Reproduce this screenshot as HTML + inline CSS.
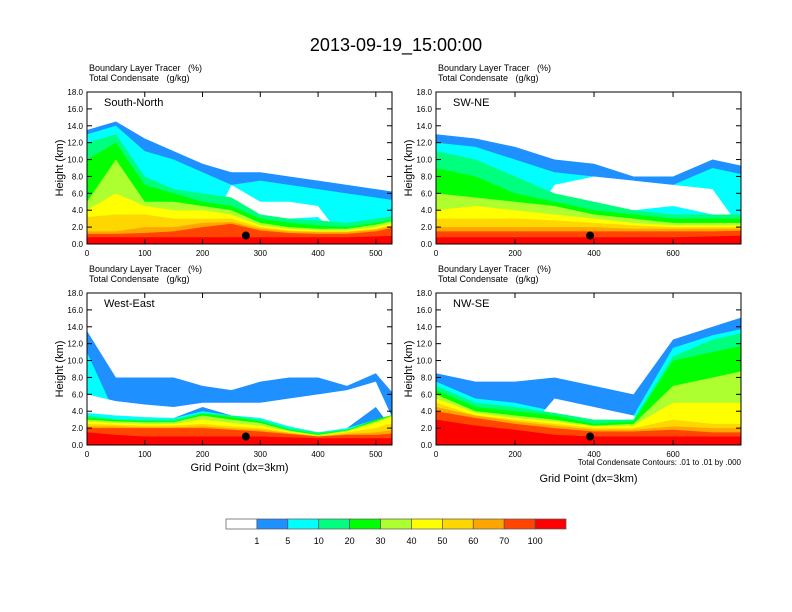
<!DOCTYPE html>
<html><head><meta charset="utf-8">
<style>
body{margin:0;background:#fff;}
svg{display:block;font-family:"Liberation Sans",sans-serif;}
text{white-space:pre;}
</style></head>
<body>
<svg id="chart" width="792" height="612" viewBox="0 0 792 612" xmlns="http://www.w3.org/2000/svg">
<text x="396" y="51" font-size="18" text-anchor="middle">2013-09-19_15:00:00</text>
<g id="panels"></g>
<g id="colorbar"></g>
</svg>
<script>
// ---- data (heights in km of each shaded level top) ----
const levelColors = ["#1e90ff","#00ffff","#00ff7f","#00ff00","#adff2f","#ffff00","#ffd700","#ffa500","#ff4500","#ff0000"];
const cbLabels = ["1","5","10","20","30","40","50","60","70","100"];
const cbColors = ["#ffffff","#1e90ff","#00ffff","#00ff7f","#00ff00","#adff2f","#ffff00","#ffd700","#ffa500","#ff4500","#ff0000"];
const yTicks = [0,2,4,6,8,10,12,14,16,18];

const snX = [0,50,100,150,200,250,300,350,400,450,500,550];
const snBlue = [13.5,14.5,12.5,11,9.5,8.5,8.5,8,7.5,7,6.5,6];
const snCyan = [13,14,11,10,8.5,7,7.5,7,6.5,6,5.5,5];
const snHoleB = [0,0,0,0,0,5.5,3,3,3.2,0,0,0];
const snHoleT = [0,0,0,0,0,7,5,5,4.5,0,0,0];
const snTeal = [12,13,8,6.5,6,5.5,3.5,3,2.8,2.5,3,3.5];
const snGreen = [10,12,7,6,5,4.5,3,2.5,2.2,2,2.5,3];
const snLime = [5,10,5,5,4.5,4,2.5,2,1.8,1.8,2.3,3];
const snYellow = [4,6,4.5,4,4,3.5,2.2,1.8,1.6,1.6,2,2.8];
const snGold = [3.2,3.5,3.5,3,3,3,2,1.6,1.5,1.5,1.8,2.6];
const snOrange = [1.5,1.5,2,2,2.5,2.6,1.8,1.5,1.4,1.4,1.7,2.4];
const snRedOr = [1.2,1.2,1.3,1.5,2,2.4,1.6,1.3,1.2,1.2,1.5,2.2];
const snRed = [0.8,0.8,0.8,0.8,0.8,0.8,0.8,0.8,0.8,0.8,0.9,1];

const swX = [0,100,200,300,400,500,600,700,800];
const swBlue = [13,12.5,11.5,10,9.5,8,8,10,9];
const swCyan = [12,11.5,10,8.5,8,7,7,9,8];
const swHoleB = [0,0,0,5,4.5,4,4.5,3.5,0];
const swHoleT = [0,0,0,7,8,7.5,7,6.5,0];
const swTeal = [11,10,8,6,5,4,3.5,3.5,3.5];
const swGreen = [9,8,6,5,4,3.5,3,3,3];
const swLime = [6,5.5,5,4.5,3.5,3,2.5,2.5,2.5];
const swYellow = [4,4.5,4,3.5,3,2.5,2.2,2.2,2.2];
const swGold = [3,3,3,2.8,2.5,2.2,2,2,2];
const swOrange = [2,2,2,2,2,1.8,1.8,1.8,1.8];
const swRedOr = [1.5,1.5,1.5,1.5,1.5,1.5,1.5,1.5,1.6];
const swRed = [0.8,0.8,0.8,0.8,0.8,0.8,0.8,0.9,1];

const weX = [0,50,100,150,200,250,300,350,400,450,500,550];
const weBlue = [13.5,8,8,8,7,6.5,7.5,8,8,7,8.5,4.5];
const weCyan = [11,3.5,3.3,3.2,4,3.5,3.2,2.2,1.5,2,3,4];
const weHoleB = [3.8,3.5,3.3,3.2,4.5,3.5,3.2,2.2,1.5,2,4.5,0];
const weHoleT = [6,5.2,4.8,4.5,5,5,5,5.5,6,6.5,7.5,0];
const weTeal = [3.5,3,3,3,3.8,3.5,3,2,1.5,1.8,3,4];
const weGreen = [3.2,3,2.8,2.8,3.7,3.3,2.8,1.8,1.3,1.8,3,4];
const weLime = [3,2.8,2.7,2.7,3.5,3,2.6,1.7,1.2,1.7,2.8,4];
const weYellow = [2.8,2.6,2.5,2.5,3,2.6,2.3,1.6,1.1,1.6,2.6,4];
const weGold = [2.5,2.4,2.3,2.3,2.5,2.2,2,1.5,1.1,1.5,2,3];
const weOrange = [2.2,2.2,2.1,2.1,2.2,2,1.8,1.4,1,1.3,1.5,2];
const weRedOr = [2,2,2,2,2,1.8,1.6,1.3,1,1.2,1.2,1.5];
const weRed = [1.5,1.2,1,1,1,1,1,0.9,0.8,0.8,0.8,0.8];

const nwX = [0,100,200,300,400,500,600,700,800];
const nwBlue = [8.5,7.5,7.5,8,7,6,12.5,14,15.5];
const nwCyan = [7.5,5.5,5,4,3.5,3.5,11.5,13,14];
const nwHoleB = [0,0,0,3.2,2.5,3,0,0,0];
const nwHoleT = [0,0,0,5.5,4.5,3.5,0,0,0];
const nwTeal = [7,5,4.5,3.8,3,3,10.5,12.5,13.5];
const nwGreen = [6.5,4.5,4,3.5,2.5,2.8,10,11,12];
const nwLime = [6,4,3.5,3,2.3,2.5,7,8,9];
const nwYellow = [5.5,3.8,3.2,2.8,2.2,2.3,5,5,5];
const nwGold = [5,3.5,3,2.5,2,2,3,2.5,2.5];
const nwOrange = [4.5,3.5,2.8,2.3,1.8,1.8,2.2,2,2];
const nwRedOr = [4,3.2,2.5,2,1.6,1.6,1.8,1.5,1.5];
const nwRed = [3,2.3,1.8,1.2,1,1,1,1,1];

const panels = [
 {id:"south-north",name:"South-North",x0:87,y0:92,xmax:528,xt:[0,100,200,300,400,500],x:snX,blue:snBlue,cyan:snCyan,hb:snHoleB,ht:snHoleT,rest:[snTeal,snGreen,snLime,snYellow,snGold,snOrange,snRedOr,snRed],dot:275,xtitle:false,note:false},
 {id:"sw-ne",name:"SW-NE",x0:436,y0:92,xmax:772,xt:[0,200,400,600],x:swX,blue:swBlue,cyan:swCyan,hb:swHoleB,ht:swHoleT,rest:[swTeal,swGreen,swLime,swYellow,swGold,swOrange,swRedOr,swRed],dot:390,xtitle:false,note:false},
 {id:"west-east",name:"West-East",x0:87,y0:293,xmax:528,xt:[0,100,200,300,400,500],x:weX,blue:weBlue,cyan:weCyan,hb:weHoleB,ht:weHoleT,rest:[weTeal,weGreen,weLime,weYellow,weGold,weOrange,weRedOr,weRed],dot:275,xtitle:true,note:false},
 {id:"nw-se",name:"NW-SE",x0:436,y0:293,xmax:772,xt:[0,200,400,600],x:nwX,blue:nwBlue,cyan:nwCyan,hb:nwHoleB,ht:nwHoleT,rest:[nwTeal,nwGreen,nwLime,nwYellow,nwGold,nwOrange,nwRedOr,nwRed],dot:390,xtitle:true,note:true}
];
const W=305,H=152;
const NS="http://www.w3.org/2000/svg";
function mk(tag,attrs,parent,txt){const e=document.createElementNS(NS,tag);for(const k in attrs)e.setAttribute(k,attrs[k]);if(txt!==undefined)e.textContent=txt;parent.appendChild(e);return e;}
const root=document.getElementById("panels");
panels.forEach((p,pi)=>{
  const g=mk("g",{},root);
  
  
  const sx=v=>p.x0+v/p.xmax*W, sy=v=>p.y0+H-v/18*H;
  const cp=mk("clipPath",{id:"clip"+pi},g); mk("rect",{x:p.x0,y:p.y0,width:W,height:H},cp);
  const fg=mk("g",{"clip-path":"url(#clip"+pi+")"},g);
  const area=(arr,color,name)=>{let d="M"+sx(p.x[0])+","+sy(0);p.x.forEach((xv,i)=>{d+="L"+sx(xv)+","+sy(arr[i]);});d+="L"+sx(p.x[p.x.length-1])+","+sy(0)+"Z";
    const e=mk("path",{d:d,fill:color},fg);
    
    };
  area(p.blue,levelColors[0],"tracer-level-1");
  area(p.cyan,levelColors[1],"tracer-level-5");
  let d="M"+sx(p.x[0])+","+sy(p.hb[0]);p.x.forEach((xv,i)=>{d+="L"+sx(xv)+","+sy(p.hb[i]);});
  for(let i=p.x.length-1;i>=0;i--)d+="L"+sx(p.x[i])+","+sy(p.ht[i]);d+="Z";
  const hole=mk("path",{d:d,fill:"#fff"},fg);
  
  
  const lvNames=["10","20","30","40","50","60","70","100"];
  p.rest.forEach((arr,k)=>area(arr,levelColors[k+2],"tracer-level-"+lvNames[k]));
  const dot=mk("circle",{cx:sx(p.dot),cy:sy(1),r:4,fill:"#000"},g);
  
  
  const fr=mk("rect",{x:p.x0,y:p.y0,width:W,height:H,fill:"none",stroke:"#000","stroke-width":1},g);
  
  
  yTicks.forEach(t=>{
    mk("line",{x1:p.x0,x2:p.x0+5,y1:sy(t),y2:sy(t),stroke:"#000"},g);
    mk("line",{x1:p.x0+W,x2:p.x0+W-5,y1:sy(t),y2:sy(t),stroke:"#000"},g);
    const tl=mk("text",{x:p.x0-4,y:sy(t)+3,"font-size":"8","text-anchor":"end"},g,t.toFixed(1));
    
    
  });
  p.xt.forEach(t=>{
    mk("line",{x1:sx(t),x2:sx(t),y1:p.y0+H,y2:p.y0+H-5,stroke:"#000"},g);
    mk("line",{x1:sx(t),x2:sx(t),y1:p.y0,y2:p.y0+5,stroke:"#000"},g);
    const tl=mk("text",{x:sx(t),y:p.y0+H+12,"font-size":"8","text-anchor":"middle"},g,String(t));
    
    
  });
  const yt=mk("text",{x:p.x0-24,y:p.y0+H/2,"font-size":"11","text-anchor":"middle",transform:"rotate(-90 "+(p.x0-24)+" "+(p.y0+H/2)+")"},g,"Height (km)");
  
  
  const t1=mk("text",{x:p.x0+2,y:p.y0-21,"font-size":"9"},g,"Boundary Layer Tracer   (%)");
  
  
  const t2=mk("text",{x:p.x0+2,y:p.y0-11,"font-size":"9"},g,"Total Condensate   (g/kg)");
  
  
  const pn=mk("text",{x:p.x0+17,y:p.y0+14,"font-size":"11"},g,p.name);
  
  
  if(p.xtitle){
    const xt=mk("text",{x:p.x0+W/2,y:p.note?482:471,"font-size":"11","text-anchor":"middle"},g,"Grid Point (dx=3km)");
    
    
  }
  if(p.note){
    const nt=mk("text",{x:p.x0+W,y:465,"font-size":"8","text-anchor":"end"},g,"Total Condensate Contours: .01 to .01 by .000");
    
    
  }
});
const cb=document.getElementById("colorbar");
const cbx=226,cbw=340/cbColors.length;
cbColors.forEach((c,i)=>{
  const r=mk("rect",{x:cbx+i*cbw,y:519,width:cbw,height:10,fill:c,stroke:"#555","stroke-width":0.7},cb);
  
  
});
cbLabels.forEach((l,i)=>{
  const t=mk("text",{x:cbx+(i+1)*cbw,y:544,"font-size":"9","text-anchor":"middle"},cb,l);
  
  
});
</script>
</body></html>
